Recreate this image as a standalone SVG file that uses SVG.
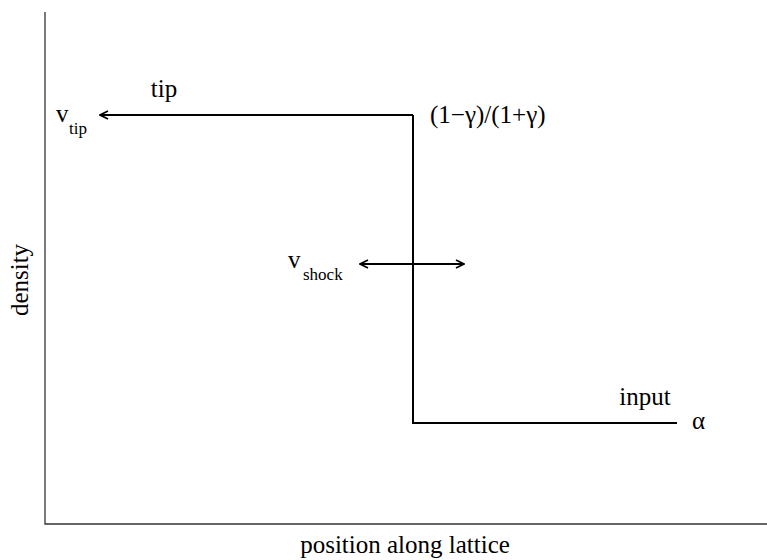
<svg xmlns="http://www.w3.org/2000/svg" width="767" height="560" viewBox="0 0 767 560">
<style>
text{font-family:"Liberation Serif","DejaVu Serif","Times New Roman",serif;fill:#000}
.lbl{font-size:25px}
.sub{font-size:17px}
.axis{stroke:#333;stroke-width:1.3;fill:none}
.curve{stroke:#000;stroke-width:2;fill:none}
</style>
<defs>
<marker id="ah" viewBox="0 0 10 10" refX="9" refY="5" markerWidth="10" markerHeight="10" markerUnits="userSpaceOnUse" orient="auto-start-reverse">
<path d="M1,1 L9,5 L1,9" fill="none" stroke="#000" stroke-width="1.8"/>
</marker>
</defs>
<g id="axes">
<path class="axis" d="M45,12 V524 H767"/>
<text class="lbl" transform="translate(28,280) rotate(-90)" text-anchor="middle">density</text>
<text class="lbl" x="405" y="553" text-anchor="middle">position along lattice</text>
</g>
<g id="connectors">
<path class="curve" d="M413,115 H100" marker-end="url(#ah)"/>
<path class="curve" d="M413,115 V423 H677"/>
<path class="curve" d="M360,264 H464" marker-start="url(#ah)" marker-end="url(#ah)"/>
</g>
<g id="tip"><text class="lbl" x="164" y="97" text-anchor="middle">tip</text></g>
<g id="vtip"><text class="lbl" x="56" y="122">v</text><text class="sub" x="69" y="134">tip</text></g>
<g id="ratio"><text class="lbl" x="430" y="123">(1−γ)/(1+γ)</text></g>
<g id="vshock"><text class="lbl" x="288" y="268">v</text><text class="sub" x="303" y="280">shock</text></g>
<g id="input"><text class="lbl" x="645" y="405" text-anchor="middle">input</text></g>
<g id="alpha"><text class="lbl" x="692" y="429">α</text></g>
</svg>
